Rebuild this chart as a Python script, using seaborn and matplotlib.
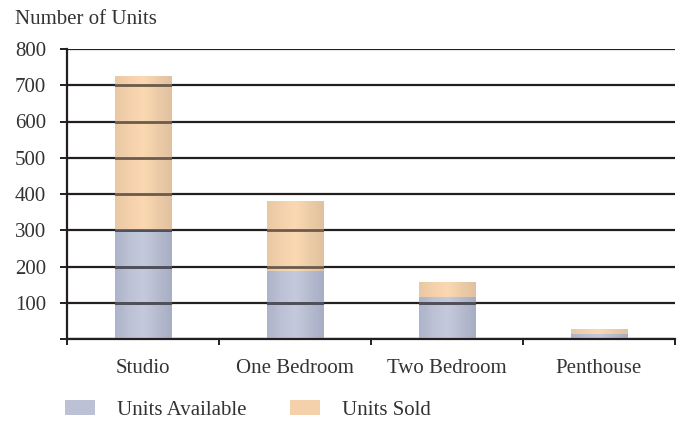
import numpy as np
import pandas as pd
import matplotlib
matplotlib.use("Agg")
import matplotlib.pyplot as plt
from matplotlib.colors import LinearSegmentedColormap
from matplotlib.patches import Patch
import seaborn as sns

# Unit mix by apartment type
categories = ["Studio", "One Bedroom", "Two Bedroom", "Penthouse"]
units_available = [300, 187, 117, 15]
units_sold = [425, 193, 40, 12]
y_ticks = [0, 100, 200, 300, 400, 500, 600, 700, 800]
y_tick_labels = ["", "100", "200", "300", "400", "500", "600", "700", "800"]

df = pd.DataFrame({
    "type": categories,
    "available": units_available,
    "total": [a + s for a, s in zip(units_available, units_sold)],
})

sns.set_theme(style="white")
plt.rcParams["font.family"] = ["Liberation Serif", "DejaVu Serif"]
FS = 15
TEXT = "#333333"

INK = "#231f20"
BLUE_FLAT = "#bcc1d5"
PEACH_FLAT = "#f4d1ab"
blue_cmap = LinearSegmentedColormap.from_list(
    "blue", ["#adb3c8", "#bcc1d5", "#c4c9dc", "#b6bbcf", "#a7adc3"])
peach_cmap = LinearSegmentedColormap.from_list(
    "peach", ["#e9c8a4", "#f4d1ac", "#fbd8b1", "#eccca8", "#e0c09e"])

fig = plt.figure(figsize=(6.81, 4.21), dpi=100)
ax = fig.add_axes([67 / 681, 1 - 339 / 421, 608 / 681, 290 / 421])

# Totals first (sold on top), then available stacked from zero
sns.barplot(data=df, x="type", y="total", color=PEACH_FLAT, width=0.375,
            saturation=1, ax=ax, zorder=2, linewidth=0)
n_total = len(ax.patches)
sns.barplot(data=df, x="type", y="available", color=BLUE_FLAT, width=0.375,
            saturation=1, ax=ax, zorder=2, linewidth=0)
bars = list(ax.patches)

# Horizontal shading inside each bar
grad = np.linspace(0, 1, 256).reshape(1, -1)
for i, p in enumerate(bars):
    cmap = peach_cmap if i < n_total else blue_cmap
    x0, y0 = p.get_x(), p.get_y()
    w, h = p.get_width(), p.get_height()
    im = ax.imshow(grad, cmap=cmap, extent=(x0, x0 + w, y0, y0 + h),
                   aspect="auto", zorder=2.2 if i >= n_total else 2.1,
                   interpolation="bicubic")
    im.set_clip_path(p)

# Gridlines: solid behind the bars, a softer tone where they cross the bars
ax.hlines(y_ticks, -0.5, 3.5, colors=INK, lw=1.6, zorder=1)
for i, p in enumerate(bars):
    tone = "#6a5b4c" if i < n_total else "#4e4f5c"
    inner = ax.hlines(y_ticks[1:], -0.5, 3.5, colors=tone, lw=2.0, zorder=5)
    inner.set_clip_path(p)

ax.set_yticks(y_ticks)
ax.set_yticklabels(y_tick_labels)
ax.tick_params(axis="y", length=5, width=1.4, color=INK, pad=10,
               labelsize=FS, labelcolor=TEXT, left=True)

ax.set_xticks(range(len(categories)))
ax.set_xticklabels(categories)
ax.set_xticks([-0.5, 0.5, 1.5, 2.5, 3.5], minor=True)
ax.tick_params(axis="x", which="major", length=0, pad=14.5, labelsize=FS,
               labelcolor=TEXT)
ax.tick_params(axis="x", which="minor", length=4, width=1.4, color=INK,
               bottom=True)

ax.set_xlabel("")
ax.set_ylabel("")
for side in ["top", "right"]:
    ax.spines[side].set_visible(False)
ax.spines["left"].set_color(INK)
ax.spines["left"].set_linewidth(1.6)
ax.spines["bottom"].set_color(INK)
ax.spines["bottom"].set_linewidth(1.6)
ax.spines["left"].set_zorder(6)
ax.set_xlim(-0.5, 3.5)
ax.set_ylim(0, 800)

fig.text(15 / 681, 1 - 20 / 421, "Number of Units", ha="left", va="center",
         fontsize=FS, color=TEXT)

handles = [Patch(facecolor=BLUE_FLAT, edgecolor="none", label="Units Available"),
           Patch(facecolor=PEACH_FLAT, edgecolor="none", label="Units Sold")]
fig.legend(handles=handles, loc="center left",
           bbox_to_anchor=(65 / 681, 1 - 410 / 421), ncol=2, frameon=False,
           fontsize=FS, handlelength=1.44, handleheight=0.75,
           handletextpad=1.06, columnspacing=2.1, borderpad=0,
           borderaxespad=0, labelcolor=TEXT)

fig.savefig("out.png", dpi=100)
